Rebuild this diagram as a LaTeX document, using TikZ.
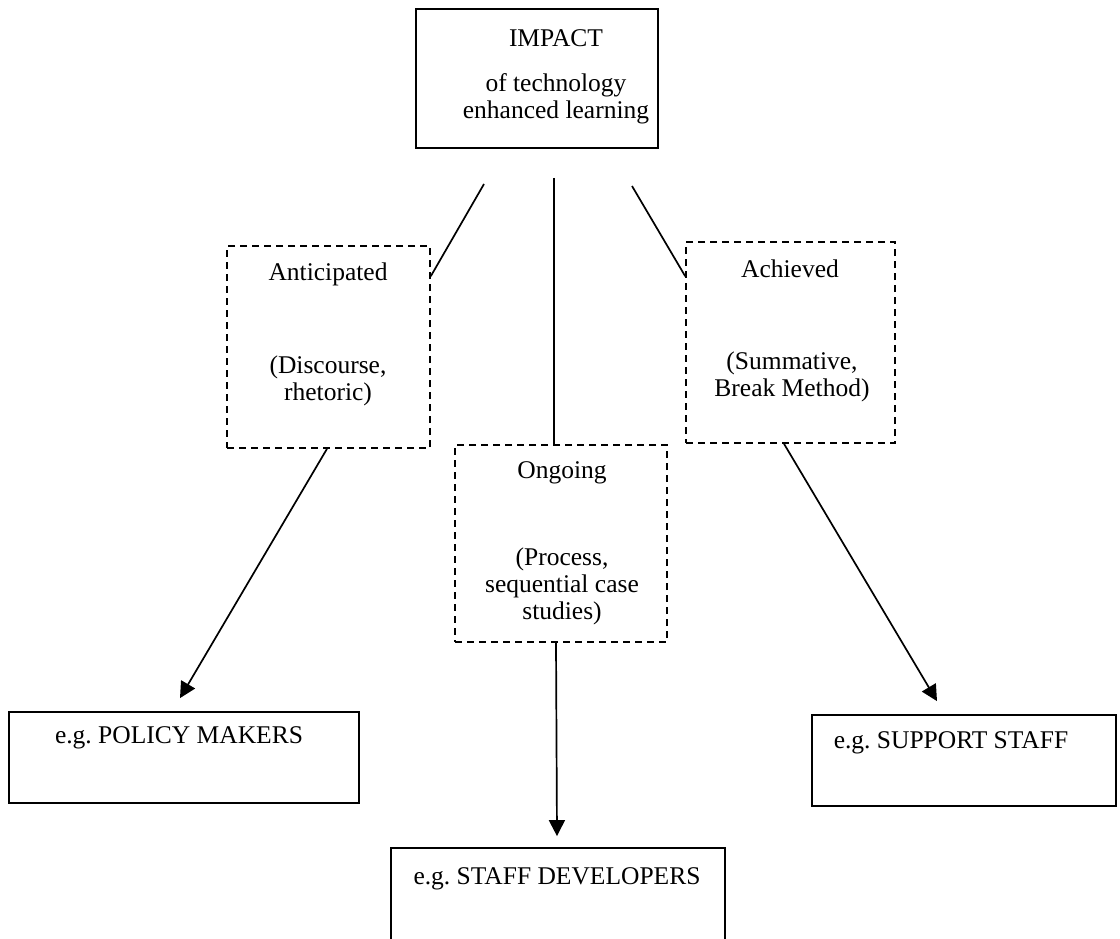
\documentclass[tikz,border=0pt]{standalone}
\usepackage{fontspec}
\setmainfont{Liberation Serif}
\usetikzlibrary{arrows.meta}
\frenchspacing

\begin{document}
\begin{tikzpicture}[x=1pt, y=-1pt,
    frame/.style={draw, line width=1.8pt, inner sep=0pt},
    dashframe/.style={frame, line width=1.6pt, dash pattern=on 7pt off 5pt},
    txt/.style={align=center, inner sep=0pt, font=\fontsize{25.5}{27}\selectfont},
    link/.style={line width=1.7pt},
    arr/.style={link, -{Triangle[length=16pt,width=16pt]}}]
  \useasboundingbox (0,0) rectangle (1120,939);

  % boxes
  \node[frame, minimum width=242pt, minimum height=139pt] (impact) at (537,78.5) {};
  \node[dashframe, minimum width=203pt, minimum height=202pt] (antic) at (328.5,347) {};
  \node[dashframe, minimum width=209pt, minimum height=201pt] (achieved) at (790.5,342.5) {};
  \node[dashframe, minimum width=212pt, minimum height=197pt] (ongoing) at (561,543.5) {};
  \node[frame, minimum width=350pt, minimum height=91pt] (policy) at (184,757.5) {};
  \node[frame, minimum width=334pt, minimum height=112pt] (staffdev) at (558,904) {};
  \node[frame, minimum width=304pt, minimum height=91pt] (support) at (964,760.5) {};

  % texts
  \node[txt] (impactA) at (556,38) {IMPACT};
  \node[txt] (impactB) at (556,99) {of technology\\enhanced learning};
  \node[txt] (anticA) at (328,274) {Anticipated};
  \node[txt] (anticB) at (328,381) {(Discourse,\\rhetoric)};
  \node[txt] (achievedA) at (790,269) {Achieved};
  \node[txt] (achievedB) at (792,377) {(Summative,\\Break Method)};
  \node[txt] (ongoingA) at (562,473) {Ongoing};
  \node[txt] (ongoingB) at (562,586) {(Process,\\sequential case\\studies)};
  \node[txt] (policyT) at (179,738) {e.g. POLICY MAKERS};
  \node[txt] (staffdevT) at (557,879) {e.g. STAFF DEVELOPERS};
  \node[txt] (supportT) at (951,743) {e.g. SUPPORT STAFF};

  % connectors
  \coordinate (ls) at (484,184);
  \coordinate (ms) at (554,178);
  \coordinate (rs) at (632,186);
  \draw[link] (ls) -- ([yshift=-31pt]antic.north east);
  \draw[link] (ms) -- (ms |- ongoing.north);
  \draw[link] (rs) -- ([yshift=-35pt]achieved.north west);
  \draw[arr] ([xshift=-1.5pt]antic.south) -- ([xshift=-4pt,yshift=13pt]policy.north);
  \draw[arr] ([xshift=-5pt]ongoing.south) -- ([xshift=-1pt,yshift=11pt]staffdev.north);
  \draw[arr] ([xshift=-6.5pt]achieved.south) -- ([xshift=-27pt,yshift=13pt]support.north);
\end{tikzpicture}
\end{document}
